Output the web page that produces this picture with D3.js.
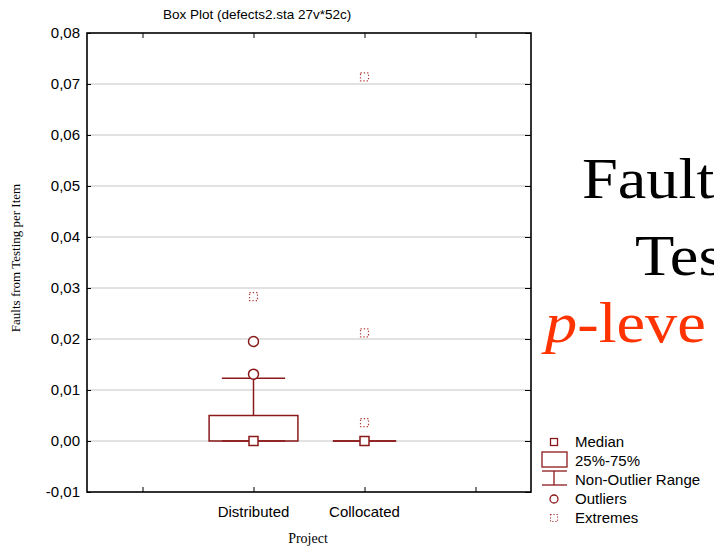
<!DOCTYPE html>
<html><head><meta charset="utf-8">
<script src="https://cdn.jsdelivr.net/npm/d3@7"></script>
<style>html,body{margin:0;padding:0;background:#fff;overflow:hidden}</style>
</head><body>
<svg id="c" width="714" height="547"></svg>
<script>
const categories = ["Distributed", "Collocated"];
const categoryPos = [1, 2];
const q1 = [0, 0];
const median = [0, 0];
const q3 = [0.005, 0];
const whiskerLow = [0, 0];
const whiskerHigh = [0.0123, 0];
const outliers = [[0.0131, 0.0195], []];
const extremes = [[0.0283], [0.0036, 0.0212, 0.0714]];
const yTicks = [-0.01, 0, 0.01, 0.02, 0.03, 0.04, 0.05, 0.06, 0.07, 0.08];
const xTicks = [0, 1, 2, 3];
const legendItems = ["Median", "25%-75%", "Non-Outlier Range", "Outliers", "Extremes"];

const svg = d3.select("#c");
const L = 87, R = 531, T = 33, B = 492;
const x = d3.scaleLinear().domain([-0.5, 3.5]).range([L, R]);
const y = d3.scaleLinear().domain([-0.01, 0.08]).range([B, T]);
const red = "#8b1a1a";
const sans = "'Liberation Sans', Arial, sans-serif";
const serif = "'Liberation Serif', 'Times New Roman', serif";
const fmt = v => d3.format(".2f")(v).replace(".", ",").replace("\u2212", "-");

// gridlines
svg.append("g").selectAll("line").data(yTicks.filter(v => v > -0.01 && v < 0.08)).join("line")
  .attr("x1", L).attr("x2", R).attr("y1", d => y(d)).attr("y2", d => y(d))
  .attr("stroke", "#c4c4c4").attr("stroke-width", 1);

// axes
const yAxis = svg.append("g").attr("transform", `translate(${L},0)`)
  .call(d3.axisLeft(y).tickValues(yTicks).tickFormat(fmt).tickSize(-4).tickPadding(7));
const yAxisR = svg.append("g").attr("transform", `translate(${R},0)`)
  .call(d3.axisRight(y).tickValues(yTicks).tickFormat("").tickSize(-6));
const xAxisB = svg.append("g").attr("transform", `translate(0,${B})`)
  .call(d3.axisBottom(x).tickValues(xTicks).tickFormat("").tickSize(-5));
const xAxisT = svg.append("g").attr("transform", `translate(0,${T})`)
  .call(d3.axisTop(x).tickValues(xTicks).tickFormat("").tickSize(-5));
[yAxis, yAxisR, xAxisB, xAxisT].forEach(g => {
  g.select(".domain").remove();
  g.selectAll(".tick line").attr("stroke", "#000");
});
yAxis.selectAll(".tick text").attr("font-family", sans).attr("font-size", 15).attr("fill", "#000");
svg.append("rect").attr("x", L).attr("y", T).attr("width", R - L).attr("height", B - T)
  .attr("fill", "none").attr("stroke", "#000").attr("stroke-width", 1.6);

// x category labels
svg.append("g").selectAll("text").data(categories).join("text")
  .attr("x", (d, i) => x(categoryPos[i])).attr("y", 517)
  .attr("text-anchor", "middle").attr("font-family", sans).attr("font-size", 15).text(d => d);

// boxes
const g = svg.append("g");
categories.forEach((c, i) => {
  const cx = x(categoryPos[i]);
  const bw = x(0.4) - x(0), cw = x(0.285) - x(0);
  g.append("line").attr("x1", cx).attr("x2", cx).attr("y1", y(q3[i])).attr("y2", y(whiskerHigh[i]))
    .attr("stroke", red).attr("stroke-width", 1.5);
  g.append("line").attr("x1", cx).attr("x2", cx).attr("y1", y(q1[i])).attr("y2", y(whiskerLow[i]))
    .attr("stroke", red).attr("stroke-width", 1.5);
  g.append("line").attr("x1", cx - cw).attr("x2", cx + cw).attr("y1", y(whiskerHigh[i])).attr("y2", y(whiskerHigh[i]))
    .attr("stroke", red).attr("stroke-width", 1.5);
  g.append("line").attr("x1", cx - cw).attr("x2", cx + cw).attr("y1", y(whiskerLow[i])).attr("y2", y(whiskerLow[i]))
    .attr("stroke", red).attr("stroke-width", 1.5);
  g.append("rect").attr("x", cx - bw).attr("width", 2 * bw)
    .attr("y", y(q3[i])).attr("height", Math.max(0, y(q1[i]) - y(q3[i])))
    .attr("fill", "none").attr("stroke", red).attr("stroke-width", 1.5);
  g.append("rect").attr("x", cx - 4.5).attr("y", y(median[i]) - 4.5).attr("width", 9).attr("height", 9)
    .attr("fill", "#fff").attr("stroke", red).attr("stroke-width", 1.5);
  outliers[i].forEach(v => {
    g.append("circle").attr("cx", cx).attr("cy", y(v)).attr("r", 5)
      .attr("fill", "#fff").attr("stroke", red).attr("stroke-width", 1.5);
  });
  extremes[i].forEach(v => {
    g.append("rect").attr("x", cx - 4).attr("y", y(v) - 4).attr("width", 8).attr("height", 8)
      .attr("fill", "none").attr("stroke", "#b03a3a").attr("stroke-width", 1.2).attr("stroke-dasharray", "1.3,2");
  });
});

// titles
svg.append("text").attr("x", 163).attr("y", 19).attr("font-family", sans).attr("font-size", 13.5)
  .text("Box Plot (defects2.sta 27v*52c)");
svg.append("text").attr("transform", "translate(20,258) rotate(-90)").attr("text-anchor", "middle")
  .attr("font-family", serif).attr("font-size", 13).text("Faults from Testing per Item");
svg.append("text").attr("x", 308).attr("y", 543).attr("text-anchor", "middle")
  .attr("font-family", serif).attr("font-size", 14).text("Project");

// legend
const lx = 554, ly0 = 442, ldy = 19;
const lg = svg.append("g");
lg.selectAll("text").data(legendItems).join("text")
  .attr("x", 575).attr("y", (d, i) => ly0 + i * ldy + 5).attr("font-family", sans).attr("font-size", 15).text(d => d);
lg.append("rect").attr("x", lx - 3.5).attr("y", ly0 - 3.5).attr("width", 7).attr("height", 7)
  .attr("fill", "#fff").attr("stroke", red).attr("stroke-width", 1.3);
lg.append("rect").attr("x", 542).attr("y", ly0 + ldy - 9).attr("width", 25).attr("height", 15)
  .attr("fill", "none").attr("stroke", red).attr("stroke-width", 1.3);
const wy = ly0 + 2 * ldy;
lg.append("line").attr("x1", 542).attr("x2", 567).attr("y1", wy - 9).attr("y2", wy - 9).attr("stroke", red).attr("stroke-width", 1.3);
lg.append("line").attr("x1", lx).attr("x2", lx).attr("y1", wy - 9).attr("y2", wy + 5).attr("stroke", red).attr("stroke-width", 1.3);
lg.append("line").attr("x1", 542).attr("x2", 567).attr("y1", wy + 5).attr("y2", wy + 5).attr("stroke", red).attr("stroke-width", 1.3);
lg.append("circle").attr("cx", lx).attr("cy", ly0 + 3 * ldy).attr("r", 4)
  .attr("fill", "#fff").attr("stroke", red).attr("stroke-width", 1.3);
lg.append("rect").attr("x", lx - 3.5).attr("y", ly0 + 4 * ldy - 3.5).attr("width", 7).attr("height", 7)
  .attr("fill", "none").attr("stroke", "#b03a3a").attr("stroke-width", 1.1).attr("stroke-dasharray", "1.2,1.8");

// overlapping slide text (partly hidden at the right edge, as in the reference)
svg.append("text").attr("transform", "translate(582,198) scale(1.11,1)").attr("font-family", serif).attr("font-size", 58).text("Fault");
svg.append("text").attr("transform", "translate(635,275) scale(1.11,1)").attr("font-family", serif).attr("font-size", 58).text("Tes");
const pl = svg.append("text").attr("transform", "translate(545,342) scale(1.11,1)").attr("font-family", serif).attr("font-size", 58).attr("fill", "#ff3300");
pl.append("tspan").attr("font-style", "italic").text("p");
pl.append("tspan").text("-leve");
</script>
</body></html>
